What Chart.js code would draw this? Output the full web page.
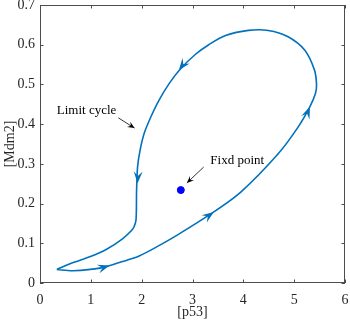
<!DOCTYPE html>
<html>
<head>
<meta charset="utf-8">
<script src="https://cdn.jsdelivr.net/npm/chart.js@4"></script>
<style>
  html, body { margin: 0; padding: 0; background: #fff; }
  #wrap { width: 350px; height: 324px; }
</style>
</head>
<body>
<div id="wrap"><canvas id="phaseChart" width="350" height="324"></canvas></div>
<script>
// limit cycle, traced in order of motion (starts at the left tip)
const cycleX = [0.33, 0.65, 1.20, 1.62, 1.95, 2.34, 2.64, 3.36, 3.95, 4.69, 5.08, 5.31, 5.42, 5.44, 5.40, 5.21, 4.88, 4.49, 4.10, 3.65, 3.32, 3.06, 2.77, 2.54, 2.34, 2.18, 2.05, 1.97, 1.92, 1.90, 1.89, 1.855, 1.80, 1.63, 1.31, 0.98, 0.64, 0.33];
const cycleY = [0.034, 0.031, 0.038, 0.054, 0.068, 0.094, 0.116, 0.174, 0.229, 0.326, 0.393, 0.444, 0.478, 0.500, 0.536, 0.586, 0.620, 0.636, 0.636, 0.623, 0.600, 0.576, 0.540, 0.502, 0.460, 0.418, 0.377, 0.335, 0.293, 0.234, 0.160, 0.143, 0.132, 0.112, 0.085, 0.066, 0.051, 0.034];

const fixedX = [2.77];
const fixedY = [0.234];

// where the direction arrows sit on the cycle
const arrowX = [1.37, 3.42, 5.31, 2.73, 1.92];
const arrowY = [0.044, 0.179, 0.444, 0.536, 0.251];

const xTicks = [0, 1, 2, 3, 4, 5, 6];
const yTicks = [0, 0.1, 0.2, 0.3, 0.4, 0.5, 0.6, 0.7];

const notes = [
  { text: "Limit cycle", x: 0.33, y: 0.435, from: [1.54, 0.416], to: [1.86, 0.39] },
  { text: "Fixd point", x: 3.35, y: 0.309, from: [3.22, 0.292], to: [2.89, 0.252] }
];

const SERIF = "'Liberation Serif', 'Times New Roman', serif";
const LINE = "#0072BD";

function drawHead(ctx, x, y, ang, len, wid, color) {
  ctx.save();
  ctx.translate(x, y);
  ctx.rotate(ang);
  ctx.beginPath();
  ctx.moveTo(0, 0);
  ctx.lineTo(-len, -wid / 2);
  ctx.lineTo(-len * 0.62, 0);
  ctx.lineTo(-len, wid / 2);
  ctx.closePath();
  ctx.fillStyle = color;
  ctx.fill();
  ctx.restore();
}

const decor = {
  id: "decor",
  afterDraw(chart) {
    const { ctx, chartArea: a, scales } = chart;
    const sx = scales.x, sy = scales.y;
    ctx.save();

    // box and inward ticks
    ctx.strokeStyle = "#4d4d4d";
    ctx.lineWidth = 1;
    ctx.strokeRect(a.left + 0.5, a.top + 0.5, a.right - a.left - 1, a.bottom - a.top - 1);
    ctx.beginPath();
    xTicks.forEach((v) => {
      const px = Math.round(sx.getPixelForValue(v)) + 0.5;
      ctx.moveTo(px, a.bottom); ctx.lineTo(px, a.bottom - 3.5);
      ctx.moveTo(px, a.top); ctx.lineTo(px, a.top + 3.5);
    });
    yTicks.forEach((v) => {
      const py = Math.round(sy.getPixelForValue(v)) + 0.5;
      ctx.moveTo(a.left, py); ctx.lineTo(a.left + 3.5, py);
      ctx.moveTo(a.right, py); ctx.lineTo(a.right - 3.5, py);
    });
    ctx.stroke();

    // direction arrows along the cycle
    const pts = cycleX.map((v, i) => [sx.getPixelForValue(v), sy.getPixelForValue(cycleY[i])]);
    arrowX.forEach((v, k) => {
      const px = sx.getPixelForValue(v), py = sy.getPixelForValue(arrowY[k]);
      let best = 0, bd = Infinity;
      for (let i = 0; i < pts.length - 1; i++) {
        const d = Math.hypot(pts[i][0] - px, pts[i][1] - py) + Math.hypot(pts[i + 1][0] - px, pts[i + 1][1] - py);
        if (d < bd) { bd = d; best = i; }
      }
      const ang = Math.atan2(pts[best + 1][1] - pts[best][1], pts[best + 1][0] - pts[best][0]);
      drawHead(ctx, px, py, ang, 12, 9, LINE);
    });

    // text notes with small black arrows
    ctx.font = "13px " + SERIF;
    ctx.fillStyle = "#000";
    ctx.textBaseline = "middle";
    ctx.textAlign = "left";
    notes.forEach((n) => {
      ctx.fillText(n.text, sx.getPixelForValue(n.x), sy.getPixelForValue(n.y));
      const x1 = sx.getPixelForValue(n.from[0]), y1 = sy.getPixelForValue(n.from[1]);
      const x2 = sx.getPixelForValue(n.to[0]), y2 = sy.getPixelForValue(n.to[1]);
      ctx.strokeStyle = "#000";
      ctx.lineWidth = 0.8;
      ctx.beginPath();
      ctx.moveTo(x1, y1); ctx.lineTo(x2, y2);
      ctx.stroke();
      drawHead(ctx, x2, y2, Math.atan2(y2 - y1, x2 - x1), 7, 6, "#000");
    });
    ctx.restore();
  }
};

new Chart(document.getElementById("phaseChart"), {
  type: "scatter",
  data: {
    datasets: [
      {
        data: cycleX.map((v, i) => ({ x: v, y: cycleY[i] })),
        showLine: true,
        borderColor: LINE,
        borderWidth: 1.6,
        pointRadius: 0,
        tension: 0.3
      },
      {
        data: fixedX.map((v, i) => ({ x: v, y: fixedY[i] })),
        pointRadius: 3.5,
        backgroundColor: "#0000ff",
        borderColor: "#0000ff"
      }
    ]
  },
  options: {
    responsive: false,
    animation: false,
    layout: { padding: { top: 5, right: 3, left: 0, bottom: 0 } },
    plugins: { legend: { display: false }, tooltip: { enabled: false } },
    scales: {
      x: {
        type: "linear",
        min: 0,
        max: 6,
        afterBuildTicks: (s) => { s.ticks = xTicks.map((v) => ({ value: v })); },
        ticks: { padding: 9, color: "#262626", font: { family: SERIF, size: 14 } },
        grid: { display: false, drawTicks: false, tickLength: 0 },
        border: { display: false },
        title: { display: true, text: "[p53]", color: "#262626", font: { family: SERIF, size: 14 }, padding: { top: 0, bottom: 3 } },
        afterFit: (s) => { s.height = 41; s.paddingLeft = 0; s.paddingRight = 0; }
      },
      y: {
        type: "linear",
        min: 0,
        max: 0.7,
        afterBuildTicks: (s) => { s.ticks = yTicks.map((v) => ({ value: v })); },
        ticks: {
          padding: 5,
          color: "#262626",
          font: { family: SERIF, size: 14 },
          callback: (v) => (v === 0 ? "0" : v.toFixed(1))
        },
        grid: { display: false, drawTicks: false, tickLength: 0 },
        border: { display: false },
        title: { display: true, text: "[Mdm2]", color: "#262626", font: { family: SERIF, size: 14 }, padding: { top: 2, bottom: 0 } },
        afterFit: (s) => { s.width = 40; s.paddingTop = 0; s.paddingBottom = 0; }
      }
    }
  },
  plugins: [decor]
});
</script>
</body>
</html>
